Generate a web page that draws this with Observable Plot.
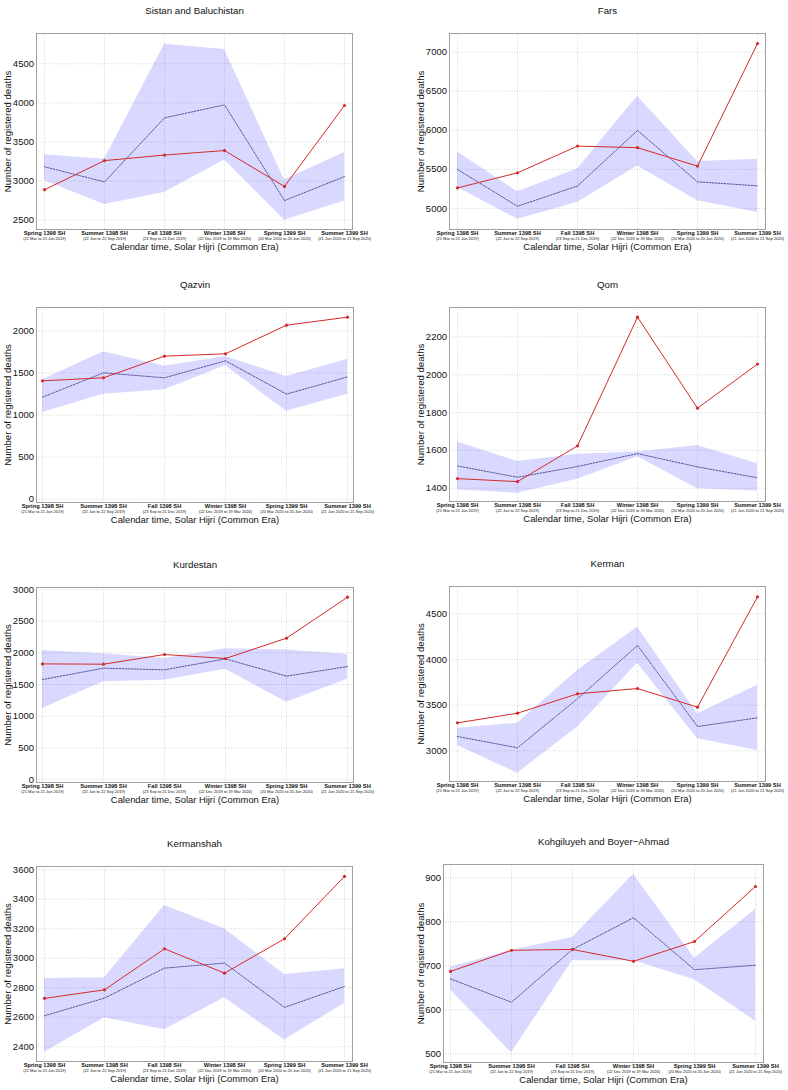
<!DOCTYPE html>
<html>
<head>
<meta charset="utf-8">
<script src="https://cdn.jsdelivr.net/npm/d3@7"></script>
<script src="https://cdn.jsdelivr.net/npm/@observablehq/plot@0.6"></script>
<style>
  html, body { margin: 0; padding: 0; background: #fff; }
  #root { position: relative; width: 788px; height: 1090px; font-family: "Liberation Sans", Arial, sans-serif; }
  .panel { position: absolute; }
</style>
</head>
<body>
<div id="root"></div>
<script>
// ---- categories / tick labels ----
const seasons = ["Spring 1398 SH", "Summer 1398 SH", "Fall 1398 SH", "Winter 1398 SH", "Spring 1399 SH", "Summer 1399 SH"];
const seasonDates = ["(21 Mar to 21 Jun 2019)", "(22 Jun to 22 Sep 2019)", "(23 Sep to 21 Dec 2019)", "(22 Dec 2019 to 19 Mar 2020)", "(20 Mar 2020 to 20 Jun 2020)", "(21 Jun 2020 to 21 Sep 2020)"];
const provinceNames = ["Sistan and Baluchistan", "Fars", "Qazvin", "Qom", "Kurdestan", "Kerman", "Kermanshah", "Kohgiluyeh and Boyer\u2212Ahmad"];
const yLabel = "Number of registered deaths";
const xLabel = "Calendar time, Solar Hijri (Common Era)";

// ---- series values (observed, expected, 95% band lower / upper) ----
const sistanObserved = [2890, 3262, 3333, 3391, 2932, 3967];
const sistanExpected = [3183, 2990, 3809, 3975, 2751, 3058];
const sistanUpper    = [3337, 3280, 4752, 4683, 3015, 3365];
const sistanLower    = [3003, 2702, 2853, 3271, 2500, 2747];
const sistanTicks    = [2500, 3000, 3500, 4000, 4500];
const sistanDomain   = [2381, 4888];

const farsObserved = [5263, 5456, 5798, 5778, 5542, 7111];
const farsExpected = [5500, 5028, 5288, 5998, 5341, 5290];
const farsUpper    = [5722, 5214, 5506, 6437, 5601, 5631];
const farsLower    = [5270, 4862, 5077, 5542, 5098, 4949];
const farsTicks    = [5000, 5500, 6000, 6500, 7000];
const farsDomain   = [4731, 7239];

const qazvinObserved = [1406, 1442, 1699, 1727, 2067, 2162];
const qazvinExpected = [1212, 1501, 1442, 1644, 1248, 1453];
const qazvinUpper    = [1420, 1750, 1580, 1695, 1457, 1663];
const qazvinLower    = [1030, 1248, 1299, 1584, 1046, 1248];
const qazvinTicks    = [0, 500, 1000, 1500, 2000];
const qazvinDomain   = [-39, 2277];

const qomObserved = [1451, 1435, 1624, 2304, 1823, 2056];
const qomExpected = [1518, 1458, 1515, 1583, 1513, 1455];
const qomUpper    = [1645, 1541, 1580, 1592, 1626, 1529];
const qomLower    = [1391, 1374, 1448, 1567, 1398, 1386];
const qomTicks    = [1400, 1600, 1800, 2000, 2200];
const qomDomain   = [1330, 2355];

const kurdestanObserved = [1826, 1821, 1974, 1911, 2232, 2879];
const kurdestanExpected = [1579, 1758, 1732, 1905, 1632, 1784];
const kurdestanUpper    = [2037, 1984, 1910, 2063, 2047, 1974];
const kurdestanLower    = [1121, 1542, 1568, 1742, 1221, 1584];
const kurdestanTicks    = [0, 500, 1000, 1500, 2000, 2500, 3000];
const kurdestanDomain   = [-47, 3032];

const kermanObserved = [3306, 3412, 3624, 3682, 3478, 4686];
const kermanExpected = [3157, 3033, 3570, 4153, 3266, 3361];
const kermanUpper    = [3248, 3303, 3880, 4354, 3405, 3719];
const kermanLower    = [3058, 2755, 3259, 3960, 3131, 3004];
const kermanTicks    = [3000, 3500, 4000, 4500];
const kermanDomain   = [2664, 4799];

const kermanshahObserved = [2728, 2786, 3064, 2899, 3132, 3555];
const kermanshahExpected = [2610, 2730, 2933, 2967, 2667, 2809];
const kermanshahUpper    = [2863, 2868, 3358, 3200, 2890, 2929];
const kermanshahLower    = [2362, 2597, 2515, 2732, 2445, 2694];
const kermanshahTicks    = [2400, 2600, 2800, 3000, 3200, 3400, 3600];
const kermanshahDomain   = [2300, 3622];

const kohgiluyehObserved = [687, 735, 737, 710, 755, 880];
const kohgiluyehExpected = [670, 617, 737, 809, 691, 701];
const kohgiluyehUpper    = [696, 735, 764, 908, 717, 828];
const kohgiluyehLower    = [645, 502, 711, 711, 668, 574];
const kohgiluyehTicks    = [500, 600, 700, 800, 900];
const kohgiluyehDomain   = [480, 930];

// ---- layout (page pixels of each panel's frame) ----
const frameLeft   = [36, 449, 36, 449, 36, 449, 36, 443];
const frameRight  = [352, 765, 353, 765, 353, 765, 352, 763];
const frameTop    = [33, 33, 307, 307, 587, 586, 866, 864];
const frameBottom = [229, 229, 502, 501, 782, 781, 1061, 1062];

const series = [
  [sistanObserved, sistanExpected, sistanLower, sistanUpper, sistanTicks, sistanDomain],
  [farsObserved, farsExpected, farsLower, farsUpper, farsTicks, farsDomain],
  [qazvinObserved, qazvinExpected, qazvinLower, qazvinUpper, qazvinTicks, qazvinDomain],
  [qomObserved, qomExpected, qomLower, qomUpper, qomTicks, qomDomain],
  [kurdestanObserved, kurdestanExpected, kurdestanLower, kurdestanUpper, kurdestanTicks, kurdestanDomain],
  [kermanObserved, kermanExpected, kermanLower, kermanUpper, kermanTicks, kermanDomain],
  [kermanshahObserved, kermanshahExpected, kermanshahLower, kermanshahUpper, kermanshahTicks, kermanshahDomain],
  [kohgiluyehObserved, kohgiluyehExpected, kohgiluyehLower, kohgiluyehUpper, kohgiluyehTicks, kohgiluyehDomain]
];

const root = document.getElementById("root");
const panelW = 394;
const mt = 34, mb = 30;
const FONT = "Liberation Sans, Arial, sans-serif";

series.forEach(([obs, exp, lo, hi, ticks, domain], p) => {
  const col = p % 2;
  const left = col * panelW;
  const rows = seasons.map((s, i) => ({season: s, observed: obs[i], expected: exp[i], lower: lo[i], upper: hi[i]}));
  const ml = frameLeft[p] - left;
  const mr = left + panelW - frameRight[p];
  const fh = frameBottom[p] - frameTop[p];
  const digits = String(d3.max(ticks)).length;
  const yLabOffset = 6.5 + 5.5 * digits;

  const chart = Plot.plot({
    width: panelW,
    height: mt + fh + mb,
    marginLeft: ml,
    marginRight: mr,
    marginTop: mt,
    marginBottom: mb,
    style: {fontFamily: FONT, fontSize: "9.5px", color: "#111", background: "transparent", overflow: "visible"},
    x: {type: "point", domain: seasons, padding: 0, insetLeft: 5.5, insetRight: 6, label: null},
    y: {domain: domain, label: null},
    marks: [
      Plot.gridX({stroke: "#c8c8c8", strokeOpacity: 1, strokeDasharray: "1,1.5", strokeWidth: 0.7}),
      Plot.gridY(ticks, {stroke: "#c8c8c8", strokeOpacity: 1, strokeDasharray: "1,1.5", strokeWidth: 0.7}),
      Plot.areaY(rows, {x: "season", y1: "lower", y2: "upper", fill: "#0000ff", fillOpacity: 0.15}),
      Plot.lineY(rows, {x: "season", y: "expected", stroke: "#45458e", strokeWidth: 0.9, strokeDasharray: "1.6,1.4"}),
      Plot.lineY(rows, {x: "season", y: "observed", stroke: "#d42a2a", strokeWidth: 1}),
      Plot.dot(rows, {x: "season", y: "observed", fill: "#d42a2a", r: 1.6}),
      Plot.frame({stroke: "#a0a0a0", strokeWidth: 1}),
      Plot.axisY(ticks, {tickSize: 0, tickPadding: 2.5, fontSize: 9.5, label: null, tickFormat: d => String(d)}),
      Plot.axisX({tickSize: 0, tickPadding: 1.3, fontSize: 5.7, fontWeight: "bold", label: null}),
      Plot.axisX({tickSize: 0, tickPadding: 7.6, fontSize: 4, label: null, tickFormat: d => seasonDates[seasons.indexOf(d)]}),
      Plot.text([yLabel], {frameAnchor: "left", textAnchor: "middle", rotate: -90, dx: -yLabOffset, fontSize: 9.6}),
      Plot.text([xLabel], {frameAnchor: "bottom", dy: 20.7, fontSize: 9.4}),
      Plot.text([provinceNames[p]], {frameAnchor: "top", dy: -26.7, fontSize: 9.7})
    ]
  });

  const div = document.createElement("div");
  div.className = "panel";
  div.style.left = left + "px";
  div.style.top = (frameTop[p] - mt) + "px";
  div.appendChild(chart);
  root.appendChild(div);
});
</script>
</body>
</html>
